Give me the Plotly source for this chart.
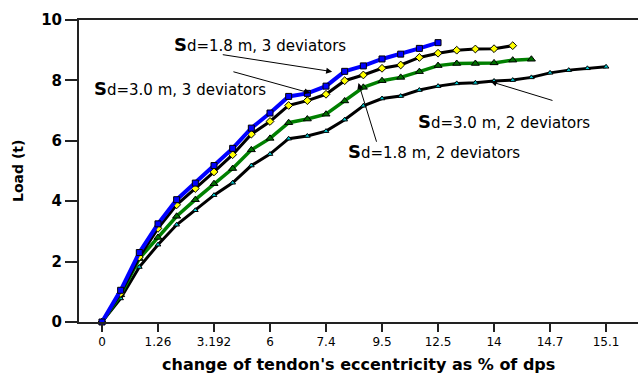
import numpy as np
import plotly.graph_objects as go

# Eccentricity categories shown on the x axis (one labelled tick every 3 readings)
tick_labels = ["0", "1.26", "3.192", "6", "7.4", "9.5", "12.5", "14", "14.7", "15.1"]
readings_per_tick = 3

# Load (t) readings for each test configuration
load_sd18_3dev = [0, 1.05, 2.30, 3.25, 4.05, 4.60, 5.18, 5.75, 6.42, 6.92, 7.47, 7.57,
                  7.81, 8.30, 8.48, 8.71, 8.87, 9.06, 9.25]
load_sd30_3dev = [0, 0.95, 2.15, 3.10, 3.88, 4.42, 4.97, 5.54, 6.22, 6.64, 7.17, 7.33,
                  7.54, 7.99, 8.18, 8.40, 8.51, 8.76, 8.90, 9.00, 9.04, 9.05, 9.15]
load_sd18_2dev = [0, 0.90, 2.10, 2.80, 3.50, 4.05, 4.58, 5.08, 5.70, 6.08, 6.60, 6.72,
                  6.88, 7.32, 7.77, 7.99, 8.10, 8.29, 8.49, 8.56, 8.56, 8.58, 8.67, 8.70]
load_sd30_2dev = [0, 0.78, 1.82, 2.56, 3.22, 3.70, 4.20, 4.61, 5.18, 5.56, 6.07, 6.16,
                  6.32, 6.70, 7.16, 7.40, 7.48, 7.68, 7.81, 7.90, 7.92, 7.98, 8.01, 8.10,
                  8.25, 8.34, 8.40, 8.45]


def positions(values):
    return np.arange(len(values)) / readings_per_tick


series = [
    # (values, line colour, line width, marker symbol, marker colour, marker size)
    (load_sd30_2dev, "#000000", 3, "triangle-up", "#00c8d0", 5),
    (load_sd18_2dev, "#008000", 3.5, "triangle-up", "#007000", 7),
    (load_sd30_3dev, "#000000", 3, "diamond", "#ffff00", 6),
    (load_sd18_3dev, "#0000ff", 4, "square", "#0000ff", 6),
]

fig = go.Figure()
for vals, lcol, lw, sym, mcol, ms in series:
    fig.add_trace(go.Scatter(
        x=positions(vals), y=vals, mode="lines+markers",
        line=dict(color=lcol, width=lw),
        marker=dict(symbol=sym, color=mcol, size=ms, line=dict(color="#000000", width=1)),
        cliponaxis=False, showlegend=False,
    ))

label_font = dict(family="DejaVu Sans", size=15, color="#000000")


def label(name):
    return "<span style='font-size:18px;font-weight:bold'>S</span>" + name


# Series labels
labels = [
    (1.25, 9.20, "d=1.8 m, 3 deviators"),
    (-0.18, 7.74, "d=3.0 m, 3 deviators"),
    (5.61, 6.63, "d=3.0 m, 2 deviators"),
    (4.36, 5.63, "d=1.8 m, 2 deviators"),
]
for lx, ly, txt in labels:
    fig.add_annotation(x=lx, y=ly, xref="x", yref="y", text=label(txt),
                       showarrow=False, xanchor="left", yanchor="middle", font=label_font)

# Leader arrows from labels to curves: (tip x, tip y, tail x, tail y)
arrows = [
    (4.11, 8.29, 2.13, 8.86),
    (3.72, 7.58, 2.32, 8.30),
    (4.58, 7.91, 4.91, 5.92),
    (6.94, 7.96, 8.07, 7.32),
]
for tx, ty, sx, sy in arrows:
    fig.add_annotation(x=tx, y=ty, ax=sx, ay=sy, xref="x", yref="y", axref="x", ayref="y",
                       text="", showarrow=True, arrowhead=2, arrowsize=1.2,
                       arrowwidth=1, arrowcolor="#000000")

# Axis titles
fig.add_annotation(x=0, y=0.5, xref="paper", yref="paper", xshift=-61,
                   text="<b>Load (t)</b>", textangle=-90, showarrow=False,
                   xanchor="center", yanchor="middle",
                   font=dict(family="DejaVu Sans", size=14, color="#000000"))
fig.add_annotation(x=0.5, y=0, xref="paper", yref="paper", yshift=-42,
                   text="<b>change of tendon's eccentricity as % of dps</b>", showarrow=False,
                   xanchor="center", yanchor="middle",
                   font=dict(family="DejaVu Sans", size=16, color="#000000"))

fig.update_xaxes(
    range=[-0.41, 9.57], tickmode="array",
    tickvals=list(range(len(tick_labels))), ticktext=tick_labels,
    showline=True, linecolor="#222222", linewidth=2, mirror=True,
    ticks="outside", ticklen=8, tickwidth=2, tickcolor="#222222",
    showgrid=False, zeroline=False,
    tickfont=dict(family="DejaVu Sans", size=12, color="#000000"),
)
fig.update_yaxes(
    range=[0, 10], tickvals=[0, 2, 4, 6, 8, 10],
    showline=True, linecolor="#222222", linewidth=2,
    ticks="outside", ticklen=12, tickwidth=2, tickcolor="#222222",
    showgrid=False, zeroline=False,
    tickfont=dict(family="DejaVu Sans", size=15, color="#000000", weight="bold"),
)

fig.update_layout(
    width=638, height=375,
    margin=dict(l=79, r=0, t=20, b=53),
    plot_bgcolor="#ffffff", paper_bgcolor="#ffffff",
)

fig.write_html("out.html")
